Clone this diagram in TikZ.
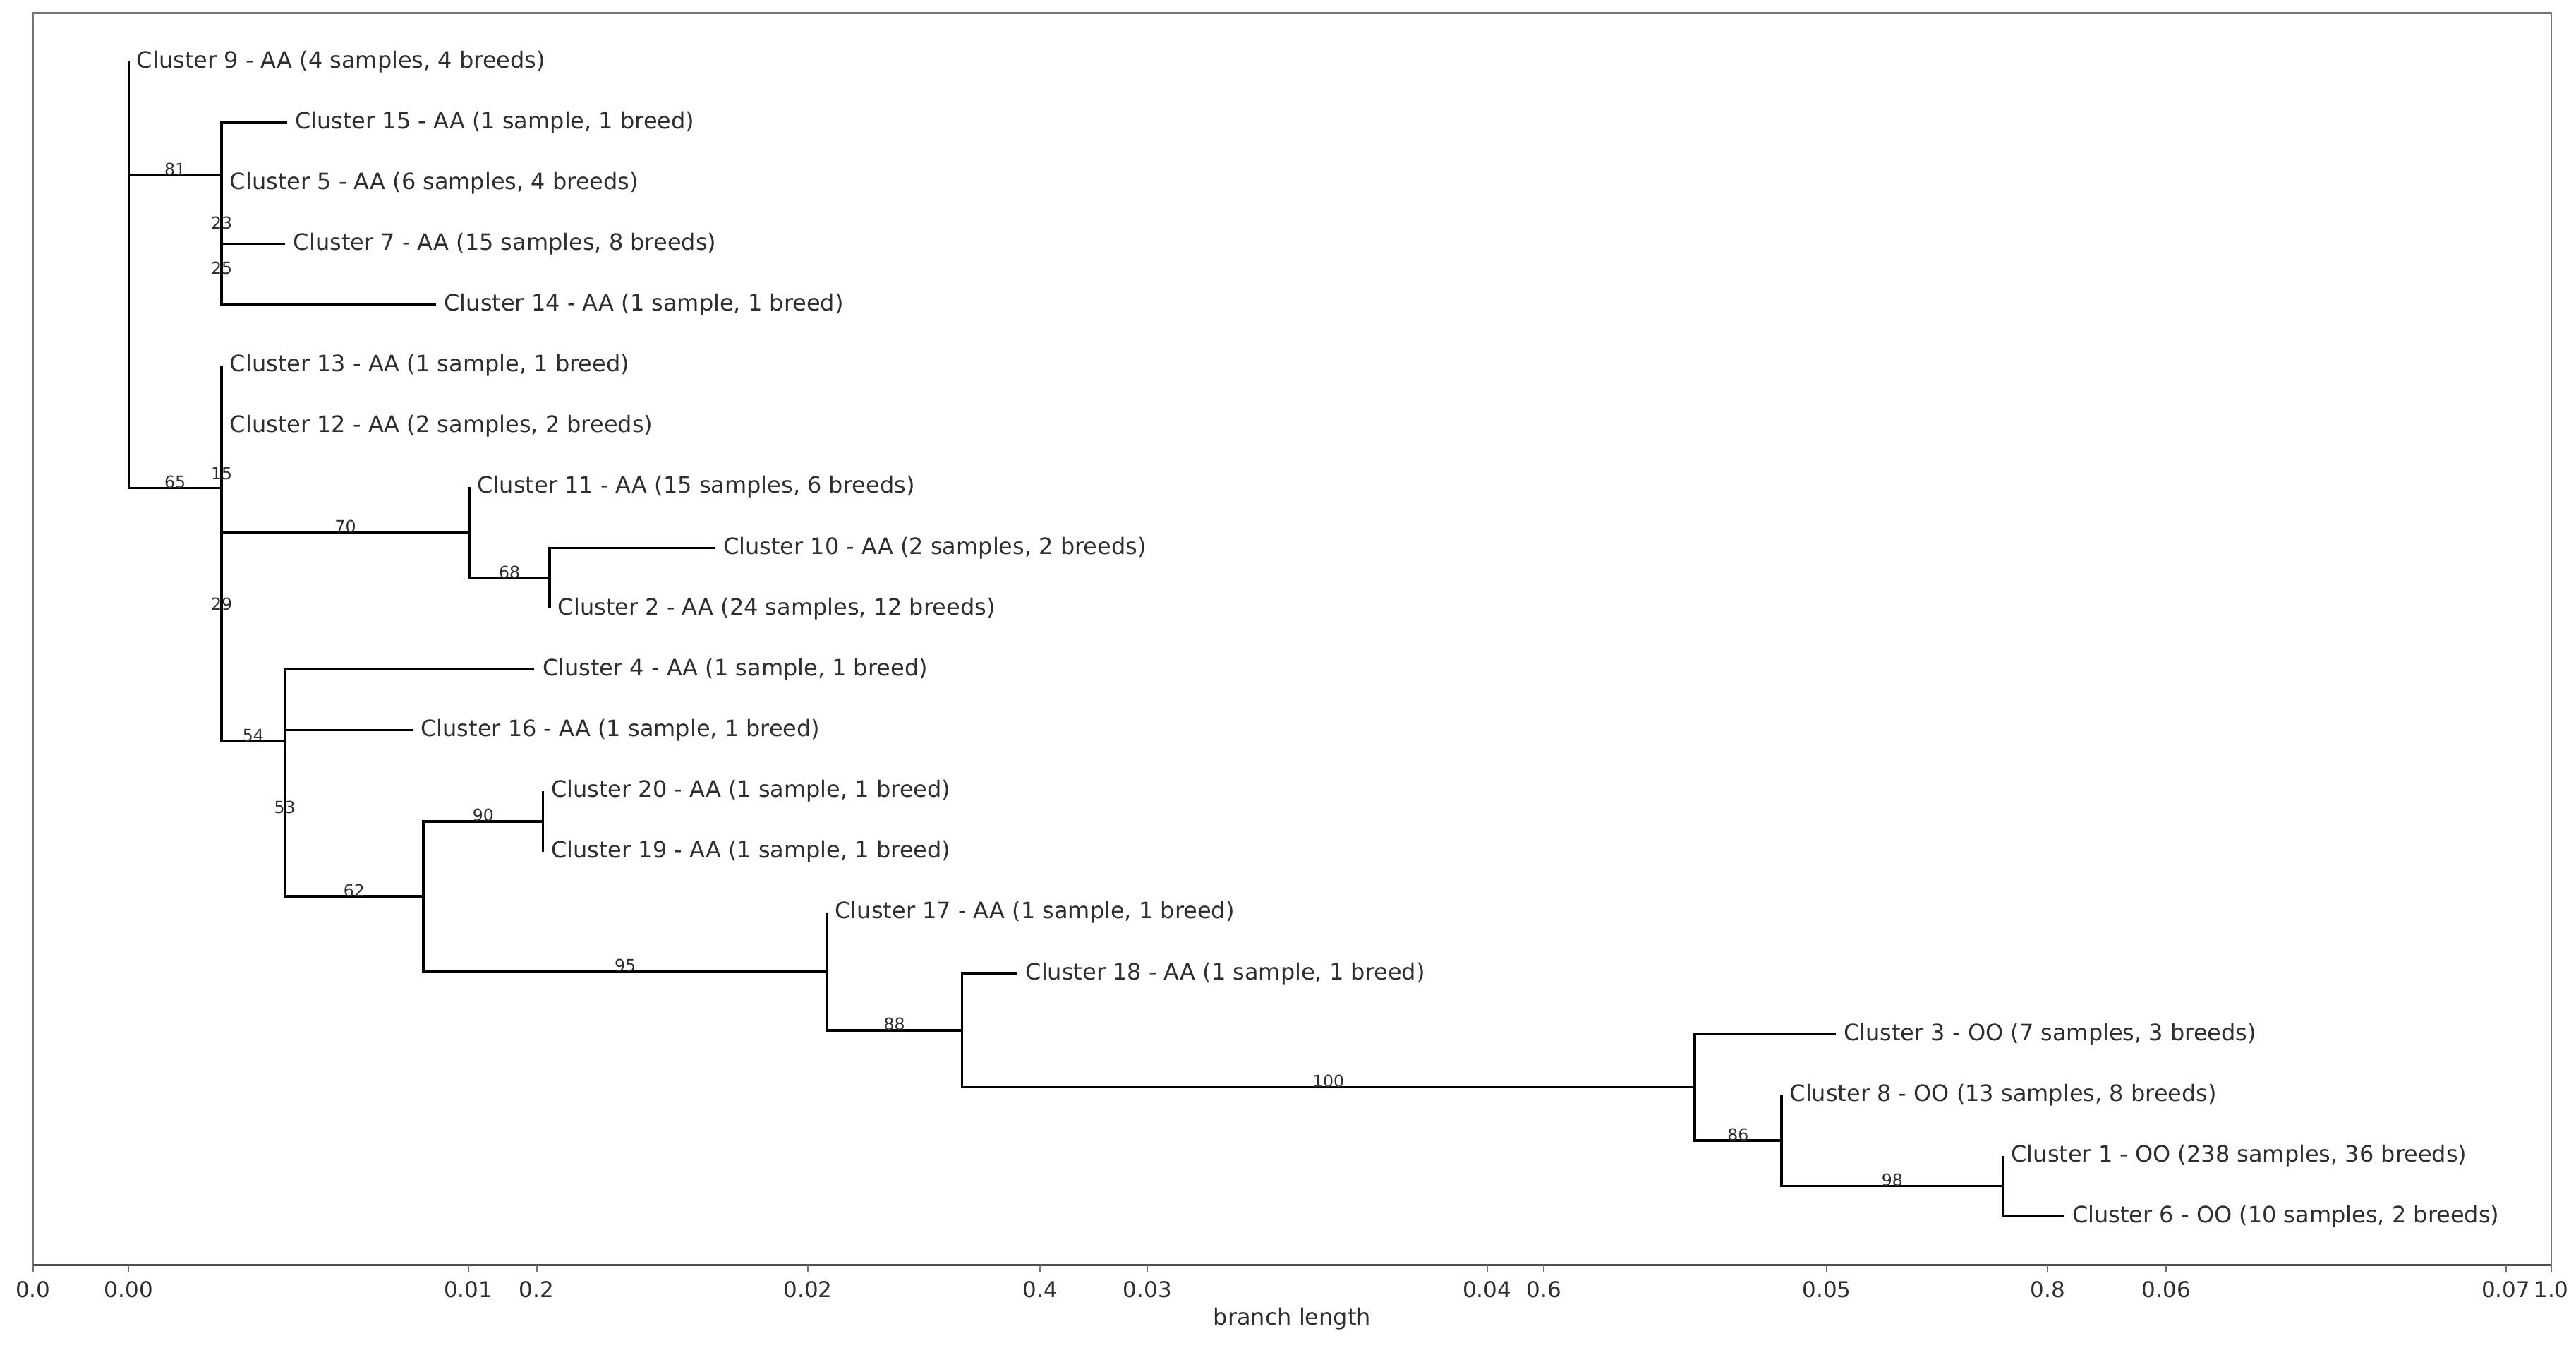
\documentclass[tikz,border=0pt]{standalone}
\usepackage{fontspec}
\setmainfont{DejaVu Sans}
\usepackage{tikz}
\usepackage{xcolor}
\definecolor{spinegray}{gray}{0.45}
\definecolor{textgray}{gray}{0.18}
\tikzset{
  phylo/.style={x=4.8134cm, y=-0.8613cm, line join=miter},
  branch/.style={draw=black, line width=1pt},
  leaf/.style={anchor=west, inner xsep=0.11cm, inner ysep=0pt, text=textgray, font=\fontsize{9.1}{11}\selectfont},
  conf/.style={anchor=base, inner sep=0pt, text=textgray, font=\fontsize{6.7}{8}\selectfont},
  spine/.style={draw=spinegray, line width=0.7pt},
  tickmark/.style={draw=spinegray, line width=0.6pt},
  ticklabel/.style={anchor=base, inner sep=0pt, text=textgray, font=\fontsize{8.8}{10}\selectfont}
}
\newcommand{\axtick}[3]{%
  \draw[tickmark] (#2,20.8) -- (#2,20.922);
  \node[ticklabel] (#1) at (#2,21.327) {#3};}

\begin{document}
\begin{tikzpicture}[phylo]
    \useasboundingbox (-0.3787,-0.0125) rectangle (7.2063,22.163);
    \coordinate (frametl) at (-0.2817,0.2);
    \coordinate (framebr) at (7.1336,20.8);
    \draw[spine] (frametl) rectangle (framebr);
    \draw[spine, draw=black!70] (frametl|-framebr) -- (framebr);

    \axtick{t00}{-0.2817}{0.0}
    \axtick{t02}{1.2014}{0.2}
    \axtick{t04}{2.6845}{0.4}
    \axtick{t06}{4.1676}{0.6}
    \axtick{t08}{5.6506}{0.8}
    \axtick{t10}{7.1336}{1.0}
    \axtick{b0}{0}{0.00}
    \axtick{b1}{1}{0.01}
    \axtick{b2}{2}{0.02}
    \axtick{b3}{3}{0.03}
    \axtick{b4}{4}{0.04}
    \axtick{b5}{5}{0.05}
    \axtick{b6}{6}{0.06}
    \axtick{b7}{7}{0.07}
    \node[ticklabel, font=\fontsize{9.1}{11}\selectfont] (xlabel) at (3.426,21.79) {branch length};

    \coordinate (root) at (0,4.507);
    \coordinate (cA) at (0.274,2.875);
    \coordinate (cA1) at (0.274,3.75);
    \coordinate (cA2) at (0.274,4.5);
    \coordinate (cB) at (0.274,8.0147);
    \coordinate (cY) at (0.274,10.0293);
    \coordinate (cX) at (0.274,7.875);
    \coordinate (cC) at (1.003,8.75);
    \coordinate (cE) at (1.240,9.5);
    \coordinate (cD) at (0.460,12.1836);
    \coordinate (cD1) at (0.460,13.3672);
    \coordinate (cF) at (0.868,14.7344);
    \coordinate (cG) at (1.220,13.5);
    \coordinate (cH) at (2.056,15.9688);
    \coordinate (cI) at (2.454,16.9375);
    \coordinate (cJ) at (4.611,17.875);
    \coordinate (cK) at (4.867,18.75);
    \coordinate (cL) at (5.519,19.5);

    \node[leaf] (c9) at (0,1) {Cluster 9 - AA (4 samples, 4 breeds)};
    \node[leaf] (c15) at (0.466,2) {Cluster 15 - AA (1 sample, 1 breed)};
    \node[leaf] (c5) at (0.274,3) {Cluster 5 - AA (6 samples, 4 breeds)};
    \node[leaf] (c7) at (0.461,4) {Cluster 7 - AA (15 samples, 8 breeds)};
    \node[leaf] (c14) at (0.905,5) {Cluster 14 - AA (1 sample, 1 breed)};
    \node[leaf] (c13) at (0.274,6) {Cluster 13 - AA (1 sample, 1 breed)};
    \node[leaf] (c12) at (0.274,7) {Cluster 12 - AA (2 samples, 2 breeds)};
    \node[leaf] (c11) at (1.003,8) {Cluster 11 - AA (15 samples, 6 breeds)};
    \node[leaf] (c10) at (1.727,9) {Cluster 10 - AA (2 samples, 2 breeds)};
    \node[leaf] (c2) at (1.240,10) {Cluster 2 - AA (24 samples, 12 breeds)};
    \node[leaf] (c4) at (1.195,11) {Cluster 4 - AA (1 sample, 1 breed)};
    \node[leaf] (c16) at (0.836,12) {Cluster 16 - AA (1 sample, 1 breed)};
    \node[leaf] (c20) at (1.220,13) {Cluster 20 - AA (1 sample, 1 breed)};
    \node[leaf] (c19) at (1.220,14) {Cluster 19 - AA (1 sample, 1 breed)};
    \node[leaf] (c17) at (2.056,15) {Cluster 17 - AA (1 sample, 1 breed)};
    \node[leaf] (c18) at (2.617,16) {Cluster 18 - AA (1 sample, 1 breed)};
    \node[leaf] (c3) at (5.026,17) {Cluster 3 - OO (7 samples, 3 breeds)};
    \node[leaf] (c8) at (4.867,18) {Cluster 8 - OO (13 samples, 8 breeds)};
    \node[leaf] (c1) at (5.519,19) {Cluster 1 - OO (238 samples, 36 breeds)};
    \node[leaf] (c6) at (5.699,20) {Cluster 6 - OO (10 samples, 2 breeds)};

    \draw[branch] (root) |- (c9.west);
    \draw[branch] (root) |- (cA) node[conf, pos=0.75] (s81) {81};
    \draw[branch] (root) |- (cB) node[conf, pos=0.75] (s65) {65};
    \draw[branch] (cA) |- (c15.west);
    \draw[branch] (cA) |- (cA1) node[conf, pos=0.75] (s23) {23};
    \draw[branch] (cA1) |- (c5.west);
    \draw[branch] (cA1) |- (cA2) node[conf, pos=0.75] (s25) {25};
    \draw[branch] (cA2) |- (c7.west);
    \draw[branch] (cA2) |- (c14.west);
    \draw[branch] (cB) |- (c13.west);
    \draw[branch] (cB) |- (cY) node[conf, pos=0.75] (s29) {29};
    \draw[branch] (cY) |- (cX) node[conf, pos=0.75] (s15) {15};
    \draw[branch] (cY) |- (cD) node[conf, pos=0.75] (s54) {54};
    \draw[branch] (cX) |- (c12.west);
    \draw[branch] (cX) |- (cC) node[conf, pos=0.75] (s70) {70};
    \draw[branch] (cC) |- (c11.west);
    \draw[branch] (cC) |- (cE) node[conf, pos=0.75] (s68) {68};
    \draw[branch] (cE) |- (c10.west);
    \draw[branch] (cE) |- (c2.west);
    \draw[branch] (cD) |- (c4.west);
    \draw[branch] (cD) |- (cD1) node[conf, pos=0.75] (s53) {53};
    \draw[branch] (cD1) |- (c16.west);
    \draw[branch] (cD1) |- (cF) node[conf, pos=0.75] (s62) {62};
    \draw[branch] (cF) |- (cG) node[conf, pos=0.75] (s90) {90};
    \draw[branch] (cF) |- (cH) node[conf, pos=0.75] (s95) {95};
    \draw[branch] (cG) |- (c20.west);
    \draw[branch] (cG) |- (c19.west);
    \draw[branch] (cH) |- (c17.west);
    \draw[branch] (cH) |- (cI) node[conf, pos=0.75] (s88) {88};
    \draw[branch] (cI) |- (c18.west);
    \draw[branch] (cI) |- (cJ) node[conf, pos=0.75] (s100) {100};
    \draw[branch] (cJ) |- (c3.west);
    \draw[branch] (cJ) |- (cK) node[conf, pos=0.75] (s86) {86};
    \draw[branch] (cK) |- (c8.west);
    \draw[branch] (cK) |- (cL) node[conf, pos=0.75] (s98) {98};
    \draw[branch] (cL) |- (c1.west);
    \draw[branch] (cL) |- (c6.west);
\end{tikzpicture}
\end{document}
